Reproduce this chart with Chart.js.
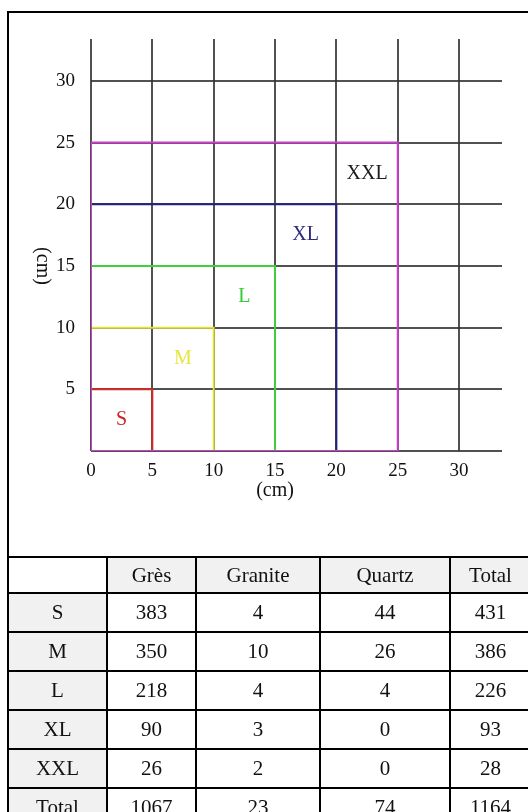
<!DOCTYPE html>
<html>
<head>
<meta charset="utf-8">
<script src="https://cdn.jsdelivr.net/npm/chart.js"></script>
<style>
  html, body { margin: 0; padding: 0; background: #fff; overflow: hidden; }
  body { width: 528px; height: 812px; position: relative; font-family: "Liberation Serif", serif; }
  #frame { position: absolute; left: 7px; top: 11px; width: 560px; height: 900px;
           border-left: 2px solid #000; border-top: 2px solid #000; }
  #chartBox { position: absolute; left: 0; top: 0; width: 528px; height: 557px; }
  #tableBox { position: absolute; left: 7px; top: 556px; width: 600px; }
  #sizeTable { border-collapse: collapse; table-layout: fixed; font-size: 21px; color: #111; }
  #sizeTable td { border: 2px solid #000; text-align: center; padding: 0; }
  #sizeTable tr.head td { height: 34px; }
  #sizeTable tr.body td { height: 37px; }
  #sizeTable td.grey { background: #f1f1f1; }
</style>
</head>
<body>
<div id="chartBox"><canvas id="sizeChart" width="528" height="557"></canvas></div>
<div id="frame"></div>
<div id="tableBox"><table id="sizeTable"></table></div>
<script>
// Tailles des carrés (côté en cm)
const sizes = ['S', 'M', 'L', 'XL', 'XXL'];
const sides = [5, 10, 15, 20, 25];
const labelPos = [2.5, 7.5, 12.5, 17.5, 22.5];
const axisTicks = [0, 5, 10, 15, 20, 25, 30];

// Tableau des effectifs
const rowLabels = ['S', 'M', 'L', 'XL', 'XXL', 'Total'];
const columns = ['Grès', 'Granite', 'Quartz', 'Total'];
const gres = [383, 350, 218, 90, 26, 1067];
const granite = [4, 10, 4, 3, 2, 23];
const quartz = [44, 26, 4, 0, 0, 74];
const totals = [431, 386, 226, 93, 28, 1164];

const lineColors = ['#d42a2a', '#e2e23a', '#3fcf3f', '#23237f', '#cc3fcc'];
const textColors = ['#cc2222', '#e6e640', '#33cc33', '#2b2b7a', '#1a1a1a'];

const datasets = sizes.map((name, i) => {
    const s = sides[i];
    return {
        label: name,
        data: [{x: 0, y: 0}, {x: s, y: 0}, {x: s, y: s}, {x: 0, y: s}, {x: 0, y: 0}],
        showLine: true,
        borderColor: lineColors[i],
        borderWidth: 2,
        pointRadius: 0,
        fill: false,
        tension: 0
    };
}).reverse();

// Étiquettes des carrés et titres des axes
const labelPlugin = {
    id: 'labels',
    afterDatasetsDraw(chart) {
        const ctx = chart.ctx;
        const xs = chart.scales.x, ys = chart.scales.y;
        ctx.save();
        ctx.textAlign = 'center';
        ctx.textBaseline = 'middle';
        ctx.font = '20px "Liberation Serif", serif';
        sizes.forEach((name, i) => {
            ctx.fillStyle = textColors[i];
            ctx.fillText(name, xs.getPixelForValue(labelPos[i]), ys.getPixelForValue(labelPos[i]));
        });
        ctx.fillStyle = '#111';
        ctx.fillText('(cm)', xs.getPixelForValue(15), 491);
        ctx.translate(42, ys.getPixelForValue(15));
        ctx.rotate(Math.PI / 2);
        ctx.fillText('(cm)', 0, 0);
        ctx.restore();
    }
};

const tickFont = { family: '"Liberation Serif", serif', size: 19 };

new Chart(document.getElementById('sizeChart'), {
    type: 'scatter',
    data: { datasets: datasets },
    plugins: [labelPlugin],
    options: {
        responsive: false,
        animation: false,
        devicePixelRatio: 1,
        layout: { padding: { left: 0, top: 39, right: 26, bottom: 0 } },
        plugins: { legend: { display: false }, tooltip: { enabled: false } },
        scales: {
            x: {
                type: 'linear',
                min: 0,
                max: 33.5,
                afterFit: (scale) => { scale.height = 106; },
                afterBuildTicks: (scale) => { scale.ticks = axisTicks.map(v => ({ value: v })); },
                grid: { color: 'rgba(50,50,50,0.85)', lineWidth: 2, drawTicks: false },
                border: { display: false },
                ticks: { color: '#111', font: tickFont, padding: 9, maxRotation: 0 }
            },
            y: {
                type: 'linear',
                min: 0,
                max: 33.4,
                afterFit: (scale) => { scale.width = 91; },
                afterBuildTicks: (scale) => { scale.ticks = axisTicks.map(v => ({ value: v })); },
                grid: { color: 'rgba(50,50,50,0.85)', lineWidth: 2, drawTicks: false },
                border: { display: false },
                ticks: {
                    color: '#111', font: tickFont, padding: 16,
                    callback: (v) => v === 0 ? '' : v
                }
            }
        }
    }
});

// Construction du tableau
const table = document.getElementById('sizeTable');
const colWidths = [99, 89, 124, 130, 81];
table.style.width = colWidths.reduce((a, b) => a + b, 0) + 'px';
const cg = document.createElement('colgroup');
colWidths.forEach(w => {
    const c = document.createElement('col');
    c.style.width = w + 'px';
    cg.appendChild(c);
});
table.appendChild(cg);
const head = document.createElement('tr');
head.className = 'head';
head.innerHTML = '<td></td>' + columns.map(c => '<td class="grey">' + c + '</td>').join('');
table.appendChild(head);
rowLabels.forEach((r, i) => {
    const tr = document.createElement('tr');
    tr.className = 'body';
    tr.innerHTML = '<td class="grey">' + r + '</td>' +
        [gres[i], granite[i], quartz[i], totals[i]].map(v => '<td>' + v + '</td>').join('');
    table.appendChild(tr);
});
</script>
</body>
</html>
